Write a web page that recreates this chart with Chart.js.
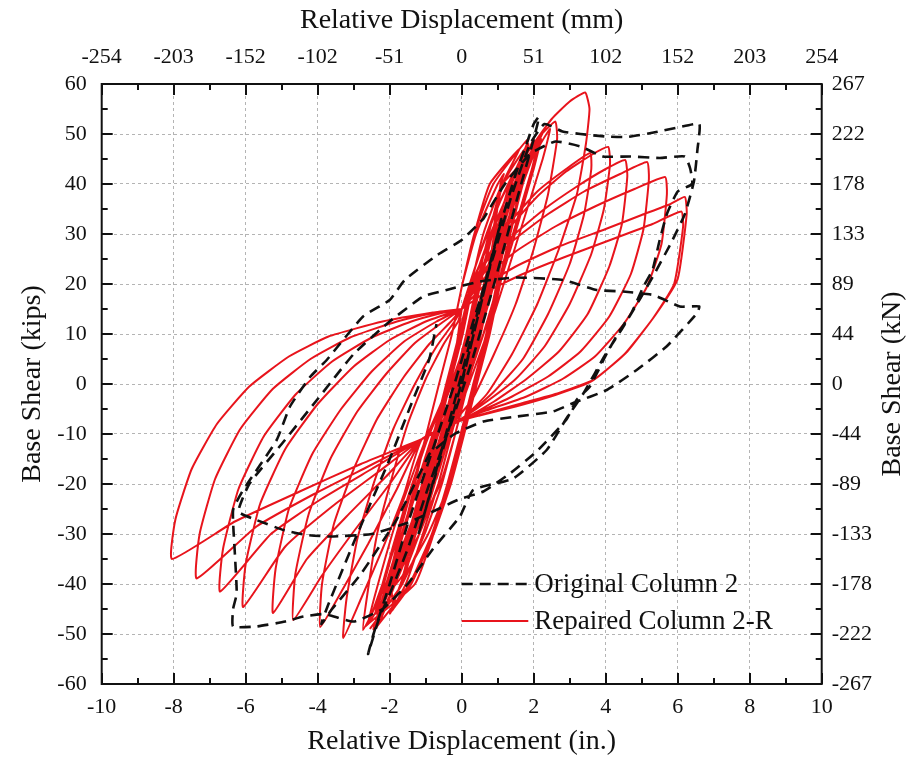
<!DOCTYPE html>
<html>
<head>
<meta charset="utf-8">
<script src="https://cdn.jsdelivr.net/npm/chart.js@4/dist/chart.umd.min.js"></script>
<style>
  html, body { margin: 0; padding: 0; background: #ffffff; }
  canvas { display: block; }
</style>
</head>
<body>
<canvas id="chart" width="909" height="761"></canvas>
<script>
// ---------------- chart values ----------------
// Series names
const seriesNames = ['Original Column 2', 'Repaired Column 2-R'];

// Secondary tick labels: mm on the top axis (one per 2 in.), kN on the right axis (one per 10 kips, bottom to top)
const mmTickLabels = ['-254', '-203', '-152', '-102', '-51', '0', '51', '102', '152', '203', '254'];
const kNTickLabels = ['-267', '-222', '-178', '-133', '-89', '-44', '0', '44', '89', '133', '178', '222', '267'];

// Original Column 2: [displacement (in.), base shear (kips)] along the loading history
const originalCycle1 = [[0,0],[0.4,12],[0.8,24],[1.1,33],[0.9,27],[0.3,9],[-0.2,-5],[-0.6,-15],[-1.0,-25],[-1.2,-30],[-1.0,-25],[-0.4,-9],[0,2]];
const originalCycle2 = [[0,2],[0.5,16],[1.0,30],[1.5,42],[1.8,48],[2.0,52],[2.15,53.5],[2.0,49],[1.5,36],[0.9,20],[0.3,5],[-0.3,-8],[-0.9,-20],[-1.5,-33],[-2.0,-42],[-2.3,-47],[-2.6,-54],[-2.45,-50],[-2.0,-40],[-1.5,-28],[-0.8,-13],[-0.2,0]];
const originalCycle3 = [[-0.2,0],[0.3,12],[0.9,26],[1.4,38],[1.9,48],[2.3,52],[2.8,50.5],[3.3,50],[4.0,49.5],[4.6,49.4],[5.4,50.4],[6.0,51.3],[6.6,52],[6.55,47],[6.45,40.5],[6.2,34],[5.8,28],[5.35,22],[4.95,17],[4.45,11],[4.0,6],[3.38,-1.9],[2.9,-7],[2.36,-13.2],[1.43,-18.9],[0.32,-21.2],[-0.05,-26.5],[-0.8,-33],[-1.5,-40],[-2.2,-45],[-3.0,-47.5],[-3.8,-46],[-4.4,-46.5],[-4.9,-47.5],[-5.7,-48.5],[-6.35,-48.5],[-6.35,-45],[-6.25,-41.9],[-6.3,-34],[-6.35,-25.2],[-6.07,-21.2],[-5.14,-11.2],[-4.77,-4.5],[-4.2,1.5],[-3.75,4.8],[-2.74,13.5],[-2.0,16.8],[-1.58,20.8],[-0.68,25.8],[0,28.8],[0.6,33]];
const originalCycle4 = [[0.6,33],[1.2,40],[1.9,46],[2.6,48.5],[3.3,47.5],[3.93,45.5],[4.67,45.5],[5.5,45.2],[6.2,45.5],[6.35,43],[6.4,40],[6.0,38.5],[5.7,34],[5.5,28.8],[5.3,22.8],[5.05,19.5],[4.7,14],[4.4,10.8],[4.03,6.1],[3.56,-0.5],[3.19,-3.2],[2.9,-7.2],[2.08,-13.5],[1.34,-17.9],[0.6,-21.5],[-0.05,-23],[-0.8,-25.5],[-1.6,-28],[-2.5,-30],[-3.66,-30.5],[-4.3,-30.2],[-4.95,-29.2],[-5.7,-27.2],[-6.2,-25.5],[-5.9,-20],[-5.0,-12],[-4.0,-3],[-3.0,6],[-2.0,12.5],[-1.07,17.5],[-0.42,18.8],[0.5,20.5],[1.5,21.3],[2.82,20.8],[3.75,18.8],[4.48,18.5],[5.32,17.8],[6.06,15.5],[6.6,15.5],[6.53,14.1],[5.69,7.5],[4.86,2.8],[4.03,-1.2],[3.1,-3.8],[2.54,-5.5],[1.53,-6.5],[0.6,-7.5],[-0.2,-10],[-0.9,-14]];
const originalCycle5 = [[-0.9,-14],[-1.8,-27],[-2.8,-38],[-3.6,-45],[-3.9,-48],[-3.7,-44],[-2.9,-30],[-2.0,-15],[-1.4,-4],[-0.9,5],[-0.7,12]];

// Repaired Column 2-R: small cycles inside the elastic band
const repairedCycle1 = [[0,0],[0.15,5],[0.3,10],[0.2,7],[0,1],[-0.15,-4],[-0.3,-8],[-0.2,-5],[0,0]];
const repairedCycle2 = [[0.2,7],[0.45,15],[0.65,21],[0.5,16],[0.1,4],[-0.2,-5],[-0.45,-13],[-0.7,-19],[-0.55,-14],[-0.2,-4],[0.1,4]];
const repairedCycle3 = [[0.4,13],[0.7,22],[0.95,30],[0.8,25],[0.3,11],[-0.1,0],[-0.5,-11],[-0.85,-21],[-1.15,-29],[-1.0,-24],[-0.5,-11],[-0.1,0]];
const repairedCycle4 = [[0.3,10],[0.75,23],[1.15,34],[1.4,40],[1.25,35],[0.7,19],[0.2,5],[-0.3,-6],[-0.8,-17],[-1.3,-29],[-1.7,-37],[-1.5,-32],[-1.0,-20],[-0.4,-6]];
const repairedCycle5 = [[0.2,6],[0.7,20],[1.2,33],[1.6,43],[1.85,48],[1.7,43],[1.1,27],[0.5,11],[-0.1,-2],[-0.7,-14],[-1.3,-26],[-1.8,-37],[-2.25,-45],[-2.05,-40],[-1.4,-24],[-0.7,-8],[0,5],[0.2,10]];
const repairedCycle6 = [[0.3,10],[0.8,22],[1.3,35],[1.7,44],[2.0,49],[1.85,44],[1.3,30],[0.6,13],[0,0],[-0.6,-12],[-1.2,-24],[-1.8,-36],[-2.3,-46],[-2.1,-40],[-1.5,-26],[-0.8,-10],[-0.2,-2]];
const repairedCycle7 = [[-0.2,-3],[0.2,8],[0.6,19],[1.0,30],[0.85,25],[0.4,12],[-0.1,-1],[-0.5,-12],[-0.85,-21],[-1.1,-28],[-0.95,-23],[-0.55,-11],[-0.2,-3]];
const repairedCycle8 = [[-0.2,-3],[0.3,10],[0.8,24],[1.3,36],[1.1,31],[0.55,16],[0.05,2],[-0.45,-10],[-0.95,-22],[-1.45,-33],[-1.25,-28],[-0.75,-15],[-0.2,-3]];
const repairedCycle9 = [[-0.2,-2],[0.3,10],[0.8,23],[1.2,33],[1.6,42],[1.45,37],[0.9,22],[0.35,8],[-0.1,-4],[-0.6,-15],[-1.1,-25],[-1.5,-33],[-1.8,-39],[-1.6,-34],[-1.1,-21],[-0.6,-9],[-0.2,-2]];
const repairedCycle10 = [[-0.1,-2],[0.4,10],[0.9,23],[1.3,33],[1.65,43],[1.5,38],[1.0,23],[0.45,9],[0,-3],[-0.5,-14],[-1.0,-24],[-1.5,-34],[-1.85,-40],[-1.65,-35],[-1.15,-22],[-0.6,-9],[-0.2,-2]];
const repairedCycle11 = [[-0.2,-2],[0.4,12],[0.9,25],[1.4,37],[1.9,46],[1.7,40],[1.1,25],[0.5,10],[-0.1,-4],[-0.7,-17],[-1.3,-28],[-1.8,-37],[-2.1,-43],[-1.9,-37],[-1.3,-22],[-0.7,-9],[-0.2,-2]];
const repairedCycle12 = [[-0.2,-2],[0.5,14],[1.1,28],[1.7,41],[2.2,49],[2.0,43],[1.4,28],[0.7,12],[0,-3],[-0.7,-17],[-1.4,-30],[-2.0,-40],[-2.4,-46],[-2.2,-40],[-1.6,-25],[-0.9,-10],[-0.3,0]];
const repairedCycle13 = [[-0.3,0],[0.3,12],[0.9,26],[1.5,39],[2.1,48],[1.95,43],[1.3,27],[0.6,10],[-0.1,-5],[-0.8,-19],[-1.5,-32],[-2.0,-41],[-2.35,-46],[-2.2,-41],[-1.7,-28],[-1.0,-12],[-0.4,-2]];
// wider loops filling the elastic band
const repairedBandLoop1 = [[-1.32,-30],[-0.6,-20],[-0.18,-10],[0.17,0],[0.5,10],[0.77,20],[0.95,30],[0.97,32],[0.75,28],[0.27,20],[-0.07,10],[-0.43,0],[-0.78,-10],[-1.1,-20],[-1.38,-28],[-1.55,-38]];
const repairedBandLoop2 = [[-1.55,-38],[-0.93,-30],[-0.35,-20],[0.02,-10],[0.37,0],[0.73,10],[0.97,20],[1.15,30],[1.3,38],[0.8,30],[0.32,20],[0.03,10],[-0.33,0],[-0.68,-10],[-1.05,-20],[-1.38,-30],[-1.62,-38],[-2.05,-42]];
const repairedBandLoop3 = [[-2.05,-42],[-1.18,-30],[-0.65,-20],[-0.28,-10],[0.07,0],[0.43,10],[0.69,20],[0.9,30],[1.08,40],[1.17,42],[1.0,40],[0.4,30],[0.02,20],[-0.27,10],[-0.63,0],[-0.98,-10],[-1.3,-20],[-1.63,-30],[-1.95,-40],[-1.9,-45]];
const repairedBandLoop4 = [[-1.9,-45],[-1.4,-40],[-0.78,-30],[-0.3,-20],[0.07,-10],[0.42,0],[0.78,10],[1.07,20],[1.35,30],[1.63,40],[1.8,46],[1.38,40],[0.85,30],[0.47,20],[0.18,10],[-0.18,0],[-0.53,-10],[-0.9,-20],[-1.28,-30],[-1.65,-40],[-2.55,-49]];
const repairedBandLoop5 = [[-2.55,-49],[-1.65,-40],[-1.03,-30],[-0.55,-20],[-0.18,-10],[0.17,0],[0.53,10],[0.82,20],[1.1,30],[1.38,40],[1.85,49],[0.88,40],[0.35,30],[0.02,20],[-0.27,10],[-0.63,0],[-0.98,-10],[-1.35,-20],[-1.73,-30],[-2.05,-40],[-2.3,-48]];
const repairedBandLoop6 = [[-2.3,-48],[-1.45,-40],[-0.83,-30],[-0.4,-20],[-0.03,-10],[0.32,0],[0.68,10],[0.97,20],[1.25,30],[1.58,40],[2.3,51],[1.8,45],[1.13,40],[0.6,30],[0.27,20],[-0.02,10],[-0.38,0],[-0.73,-10],[-1.1,-20],[-1.48,-30],[-1.85,-40],[-2.3,-48]];
const repairedBandLoop7 = [[-2.3,-48],[-1.85,-40],[-1.28,-30],[-0.85,-20],[-0.48,-10],[-0.13,0],[0.23,10],[0.52,20],[0.85,30],[1.13,40],[1.6,47],[0.78,40],[0.35,30],[0.02,20],[-0.27,10],[-0.63,0],[-0.98,-10],[-1.35,-20],[-1.75,-30],[-2.2,-40],[-2.6,-48]];
const repairedBandLoop8 = [[-2.6,-48],[-1.3,-40],[-0.78,-30],[-0.35,-20],[0.02,-10],[0.37,0],[0.73,10],[1.02,20],[1.35,30],[1.7,40],[2.1,48],[1.45,40],[1.05,30],[0.72,20],[0.43,10],[0.07,0],[-0.28,-10],[-0.65,-20],[-1.08,-30],[-1.55,-40],[-2.0,-46]];
const repairedBandLoop9 = [[-2.0,-46],[-1.7,-40],[-1.18,-30],[-0.75,-20],[-0.38,-10],[-0.03,0],[0.33,10],[0.62,20],[0.95,30],[1.33,40],[1.75,47],[1.13,40],[0.75,30],[0.42,20],[0.13,10],[-0.23,0],[-0.58,-10],[-0.95,-20],[-1.38,-30],[-1.85,-40],[-2.45,-49],[-0.4,-2]];
const repairedCycle14 = [[-0.4,-2],[0.4,14],[1.1,29],[1.8,43],[2.45,51],[2.25,45],[1.6,30],[0.9,14],[0.1,-2],[-0.6,-16],[-1.4,-31],[-2.1,-42],[-2.6,-48],[-2.4,-42],[-1.8,-27],[-1.0,-11],[-0.3,1],[0,15]];
// Repaired Column 2-R: large pinched cycles
const repairedCycle15 = [[0,15],[0.4,24],[0.9,34],[1.5,43],[2.1,49],[2.6,52.5],[2.65,49],[2.4,38],[2.0,27],[1.5,16],[0.9,6],[0.3,-3],[-0.2,-7.5],[-0.6,-12],[-1.2,-24],[-1.8,-35],[-2.3,-43],[-2.74,-49.2],[-2.62,-42],[-2.35,-30],[-1.95,-19],[-1.5,-8],[-1.0,1],[-0.5,8],[-0.1,12.5],[0,15]];
const repairedCycle16 = [[0,15],[0.5,26],[1.1,37],[1.8,46],[2.5,53],[3.0,56.5],[3.43,58.3],[3.55,55],[3.45,48],[3.2,38],[2.7,27],[2.1,16],[1.4,6],[0.7,-2],[0,-7],[-1.1,-11],[-1.6,-22],[-2.2,-33],[-2.8,-43],[-3.29,-50.8],[-3.2,-43],[-2.9,-31],[-2.45,-20],[-1.9,-9],[-1.3,0],[-0.7,7.5],[-0.2,12.5],[0,15]];
const repairedCycle17 = [[0,15],[0.6,24],[1.3,32],[2.1,38.5],[2.9,43],[3.57,46.2],[3.6,43],[3.4,34],[3.0,24],[2.4,14],[1.7,5],[0.9,-1.5],[0.1,-6.5],[-1.1,-11],[-1.8,-21],[-2.6,-32],[-3.3,-41],[-3.93,-48.6],[-3.88,-40],[-3.55,-28],[-3.0,-17],[-2.35,-7],[-1.6,1.5],[-0.9,8],[-0.3,12.5],[0,15]];
const repairedCycle18 = [[0,15],[0.6,23.5],[1.3,31],[2.1,37.5],[2.9,42.5],[3.6,45.8],[4.07,47.4],[4.12,44],[3.95,35],[3.6,26],[3.0,16],[2.3,7.5],[1.5,1],[0.6,-4],[-0.1,-7.3],[-1.1,-11],[-2.0,-20],[-3.0,-29.5],[-3.9,-38.5],[-4.68,-47.2],[-4.62,-38],[-4.25,-26],[-3.65,-15],[-2.9,-5.5],[-2.1,2],[-1.3,8.2],[-0.5,12.5],[0,15]];
const repairedCycle19 = [[0,15],[0.6,22.5],[1.4,29.5],[2.3,35],[3.2,39.5],[4.0,43],[4.54,44.8],[4.6,41.5],[4.45,32],[4.1,23.5],[3.5,14],[2.7,6.5],[1.8,1],[0.9,-3.5],[0,-7.2],[-1.1,-11],[-2.1,-18.5],[-3.2,-26.5],[-4.3,-35],[-5.24,-45.8],[-5.17,-37],[-4.8,-25],[-4.15,-14],[-3.35,-5],[-2.5,2.5],[-1.6,8.5],[-0.7,12.5],[0,15]];
const repairedCycle20 = [[0,15],[0.6,22],[1.4,28.5],[2.4,34],[3.4,38.5],[4.4,42],[5.15,44.4],[5.2,41],[5.05,31],[4.7,22],[4.1,13.5],[3.3,6.5],[2.4,1.5],[1.4,-2.5],[0.5,-5.5],[-0.1,-7.3],[-1.1,-11],[-2.3,-17.5],[-3.6,-24.5],[-4.9,-32.5],[-6.07,-44.6],[-6.0,-36],[-5.6,-24],[-4.9,-13],[-4.0,-4],[-3.0,3.5],[-2.0,8.8],[-1.0,12.5],[0,15]];
const repairedCycle21 = [[0,15],[0.6,21],[1.5,26.5],[2.6,31.5],[3.7,35.5],[4.8,39],[5.65,41.4],[5.7,38],[5.55,28],[5.15,19.5],[4.5,12],[3.7,5.5],[2.8,1],[1.8,-2.5],[0.8,-5],[-0.1,-7.3],[-1.1,-11],[-2.5,-17],[-3.9,-23],[-5.3,-30],[-6.71,-41.5],[-6.63,-33],[-6.2,-21],[-5.5,-10.5],[-4.6,-2],[-3.6,4.5],[-2.5,9.3],[-1.4,12.5],[-0.5,14.3],[0,15]];
const repairedCycle22 = [[0,15],[0.6,19.5],[1.5,23.5],[2.7,27.5],[4.0,31],[5.0,33.8],[5.8,36],[6.2,37.4],[6.25,34],[6.0,21],[5.4,14],[4.6,6.5],[3.7,1],[2.7,-1.8],[1.6,-4],[0.6,-6],[-0.1,-7.5],[-1.1,-11],[-2.6,-16.5],[-4.1,-22],[-5.7,-28.5],[-7.36,-38.9],[-7.28,-30],[-6.85,-19],[-6.15,-9],[-5.25,-1],[-4.2,5],[-3.1,9.3],[-1.8,12.5],[-0.7,14.3],[0,15]];
const repairedCycle23 = [[0,15],[0.7,18.5],[1.7,22],[2.9,25.5],[4.2,29],[5.3,32],[6.1,34.5],[6.15,31.5],[5.9,20],[5.3,13],[4.5,5.8],[3.6,0.5],[2.6,-2.2],[1.5,-4.5],[0.5,-6.3],[-0.1,-7.5],[-1.1,-11],[-2.8,-16],[-4.5,-21.5],[-6.3,-27.5],[-8.05,-35],[-7.95,-27],[-7.5,-17],[-6.8,-8],[-5.9,-0.5],[-4.8,5.5],[-3.7,9.5],[-2.2,12.5],[-0.8,14.3],[0,15]];

const originalCycles = [originalCycle1, originalCycle2, originalCycle3, originalCycle4, originalCycle5];
const repairedCycles = [repairedCycle1, repairedCycle2, repairedCycle3, repairedCycle4, repairedCycle5, repairedCycle6,
  repairedCycle7, repairedCycle8, repairedCycle9, repairedCycle10, repairedCycle11, repairedCycle12, repairedCycle13,
  repairedBandLoop1, repairedBandLoop2, repairedBandLoop3, repairedBandLoop4, repairedBandLoop5, repairedBandLoop6,
  repairedBandLoop7, repairedBandLoop8, repairedBandLoop9,
  repairedCycle14, repairedCycle15, repairedCycle16, repairedCycle17, repairedCycle18,
  repairedCycle19, repairedCycle20, repairedCycle21, repairedCycle22, repairedCycle23];

// ---------------- drawing ----------------
const SERIF = "'Liberation Serif', 'Times New Roman', Times, serif";
const INK = '#111111';

const toPoints = cycles => cycles.flat().map(([x, y]) => ({ x, y }));

// white page behind everything
const paperPlugin = {
  id: 'paper',
  beforeDraw(chart) {
    const { ctx } = chart;
    ctx.save();
    ctx.fillStyle = '#ffffff';
    ctx.fillRect(0, 0, chart.width, chart.height);
    ctx.restore();
  }
};

// closed frame with inward major/minor ticks on all four sides
const frameTicksPlugin = {
  id: 'frameTicks',
  afterDatasetsDraw(chart) {
    const { ctx, chartArea: a, scales: { x, y } } = chart;
    const MAJOR = 11, MINOR = 6;
    ctx.save();
    ctx.strokeStyle = INK;
    ctx.lineWidth = 2;
    ctx.beginPath();
    for (let v = x.min; v <= x.max; v += 1) {
      const px = Math.round(x.getPixelForValue(v));
      const len = (v % 2 === 0) ? MAJOR : MINOR;
      ctx.moveTo(px, a.bottom); ctx.lineTo(px, a.bottom - len);
      ctx.moveTo(px, a.top); ctx.lineTo(px, a.top + len);
    }
    for (let v = y.min; v <= y.max; v += 5) {
      const py = Math.round(y.getPixelForValue(v));
      const len = (v % 10 === 0) ? MAJOR : MINOR;
      ctx.moveTo(a.left, py); ctx.lineTo(a.left + len, py);
      ctx.moveTo(a.right, py); ctx.lineTo(a.right - len, py);
    }
    ctx.stroke();
    ctx.strokeRect(a.left, a.top, a.right - a.left, a.bottom - a.top);
    ctx.restore();
  }
};

// legend inside the plot, placed through the scales
const legendPlugin = {
  id: 'insideLegend',
  afterDatasetsDraw(chart) {
    const { ctx, scales: { x, y } } = chart;
    const x0 = x.getPixelForValue(0.0), x1 = x.getPixelForValue(1.85);
    const rows = [-40, -47.4];
    ctx.save();
    chart.data.datasets.forEach((ds, i) => {
      const py = y.getPixelForValue(rows[i]);
      ctx.strokeStyle = ds.borderColor;
      ctx.lineWidth = ds.borderWidth;
      ctx.setLineDash(ds.borderDash || []);
      ctx.beginPath();
      ctx.moveTo(x0, py); ctx.lineTo(x1, py);
      ctx.stroke();
      ctx.setLineDash([]);
      ctx.fillStyle = INK;
      ctx.font = `27px ${SERIF}`;
      ctx.textBaseline = 'middle';
      ctx.textAlign = 'left';
      ctx.fillText(ds.label, x1 + 6, py + 1);
    });
    ctx.restore();
  }
};

// right-hand axis title, reading bottom to top like the left one
const rightTitlePlugin = {
  id: 'rightTitle',
  afterDraw(chart) {
    const { ctx, chartArea: a } = chart;
    ctx.save();
    ctx.translate(chart.width - 16, (a.top + a.bottom) / 2);
    ctx.rotate(-Math.PI / 2);
    ctx.fillStyle = INK;
    ctx.font = `28px ${SERIF}`;
    ctx.textAlign = 'center';
    ctx.textBaseline = 'middle';
    ctx.fillText('Base Shear (kN)', 0, 0);
    ctx.restore();
  }
};

const tickFont = { family: SERIF, size: 22 };
const titleFont = { family: SERIF, size: 28 };
const gridStyle = { color: '#b4b4b4', lineWidth: 1, drawTicks: false };

new Chart(document.getElementById('chart'), {
  type: 'scatter',
  data: {
    datasets: [
      {
        label: seriesNames[0],
        data: toPoints(originalCycles),
        showLine: true,
        borderColor: '#111111',
        borderWidth: 2.6,
        borderDash: [11, 7],
        pointRadius: 0,
        tension: 0.15,
        fill: false
      },
      {
        label: seriesNames[1],
        data: toPoints(repairedCycles),
        showLine: true,
        borderColor: '#e8141c',
        borderWidth: 2,
        pointRadius: 0,
        tension: 0.15,
        fill: false
      }
    ]
  },
  options: {
    responsive: false,
    animation: false,
    devicePixelRatio: 1,
    layout: { padding: 0 },
    plugins: { legend: { display: false }, tooltip: { enabled: false } },
    scales: {
      x: {
        type: 'linear', position: 'bottom', min: -10, max: 10,
        ticks: { stepSize: 2, padding: 10, color: INK, font: tickFont, callback: v => String(v) },
        grid: gridStyle,
        border: { display: false, dash: [3, 3] },
        title: { display: true, text: 'Relative Displacement (in.)', color: INK, font: titleFont, padding: { top: 0, bottom: 3 } },
        afterFit: s => { s.height = 77; }
      },
      x2: {
        type: 'linear', position: 'top', min: -10, max: 10,
        ticks: { stepSize: 2, padding: 14, color: INK, font: tickFont, callback: v => mmTickLabels[Math.round((v + 10) / 2)] },
        grid: { display: false, drawTicks: false },
        border: { display: false },
        title: { display: true, text: 'Relative Displacement (mm)', color: INK, font: titleFont, padding: { top: 4, bottom: 0 } },
        afterFit: s => { s.height = 84; }
      },
      y: {
        type: 'linear', position: 'left', min: -60, max: 60,
        ticks: { stepSize: 10, padding: 15, color: INK, font: tickFont, callback: v => String(v) },
        grid: gridStyle,
        border: { display: false, dash: [3, 3] },
        title: { display: true, text: 'Base Shear (kips)', color: INK, font: titleFont, padding: { top: 16, bottom: 0 } },
        afterFit: s => { s.width = 101.7; }
      },
      y2: {
        type: 'linear', position: 'right', min: -60, max: 60,
        ticks: { stepSize: 10, padding: 10, color: INK, font: tickFont, callback: v => kNTickLabels[Math.round((v + 60) / 10)] },
        grid: { display: false, drawTicks: false },
        border: { display: false },
        afterFit: s => { s.width = 87.3; }
      }
    }
  },
  plugins: [paperPlugin, frameTicksPlugin, legendPlugin, rightTitlePlugin]
});
</script>
</body>
</html>
